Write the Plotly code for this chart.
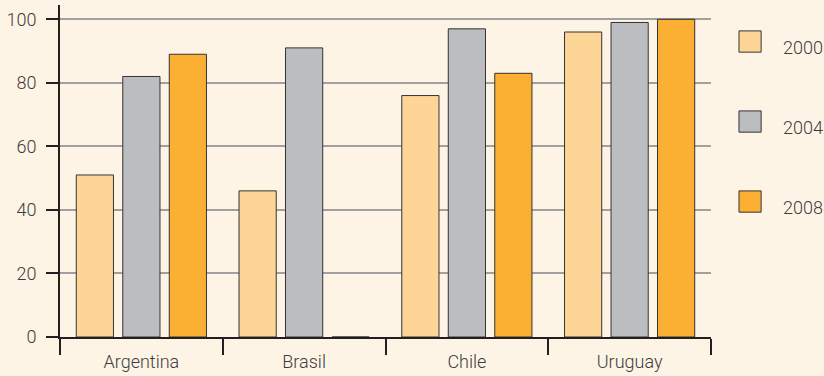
import plotly.graph_objects as go

countries = ["Argentina", "Brasil", "Chile", "Uruguay"]
years = ["2000", "2004", "2008"]
v2000 = [51, 46, 76, 96]
v2004 = [82, 91, 97, 99]
v2008 = [89, 0, 83, 100]
colors = ["#FDD596", "#BCBDC0", "#FBB034"]
series = [v2000, v2004, v2008]

BG = "#FEF4E6"
TXT = "#3c3c3c"
FONT = "Roboto"
FS = 18

fig = go.Figure()
for name, vals, c in zip(years, series, colors):
    fig.add_trace(go.Bar(x=countries, y=vals, name=name, marker=dict(color=c, line=dict(color="#333333", width=1)),
                         showlegend=False))

# manual legend
shapes = []
annotations = []
for i, (name, c) in enumerate(zip(years, colors)):
    yc = 0.89 - i * 0.241
    shapes.append(dict(type="rect", xref="paper", yref="paper",
                       x0=1.043, x1=1.077, y0=yc - 0.032, y1=yc + 0.032,
                       fillcolor=c, line=dict(color="#333333", width=1)))
    annotations.append(dict(xref="paper", yref="paper", x=1.108, y=yc - 0.018, text=name, showarrow=False,
                            xanchor="left", yanchor="middle",
                            font=dict(family=FONT, size=FS, color=TXT, weight=300)))

fig.update_layout(
    width=824, height=376,
    margin=dict(l=60, r=113, t=5, b=39),
    paper_bgcolor=BG, plot_bgcolor=BG,
    barmode="group", bargap=0.143, bargroupgap=0.2,
    font=dict(family=FONT, size=FS, color=TXT, weight=300),
    shapes=shapes, annotations=annotations,
    xaxis=dict(type="category", showline=True, linecolor="#231f20", linewidth=2, automargin=False,
               ticks="outside", tickson="boundaries", ticklen=16, tickwidth=2, tickcolor="#231f20",
               ticklabelstandoff=7,
               showgrid=False, tickfont=dict(family=FONT, size=FS, color=TXT, weight=300)),
    yaxis=dict(range=[0, 104.5], tickvals=[0, 20, 40, 60, 80, 100], showline=True, linecolor="#231f20",
               linewidth=2, ticks="outside", ticklen=12, tickwidth=2, tickcolor="#231f20", automargin=False,
               ticklabelstandoff=6,
               showgrid=True, gridcolor="#a0a0a0", gridwidth=2, zeroline=False,
               tickfont=dict(family=FONT, size=FS, color=TXT, weight=300)),
)

fig.write_html("out.html")
